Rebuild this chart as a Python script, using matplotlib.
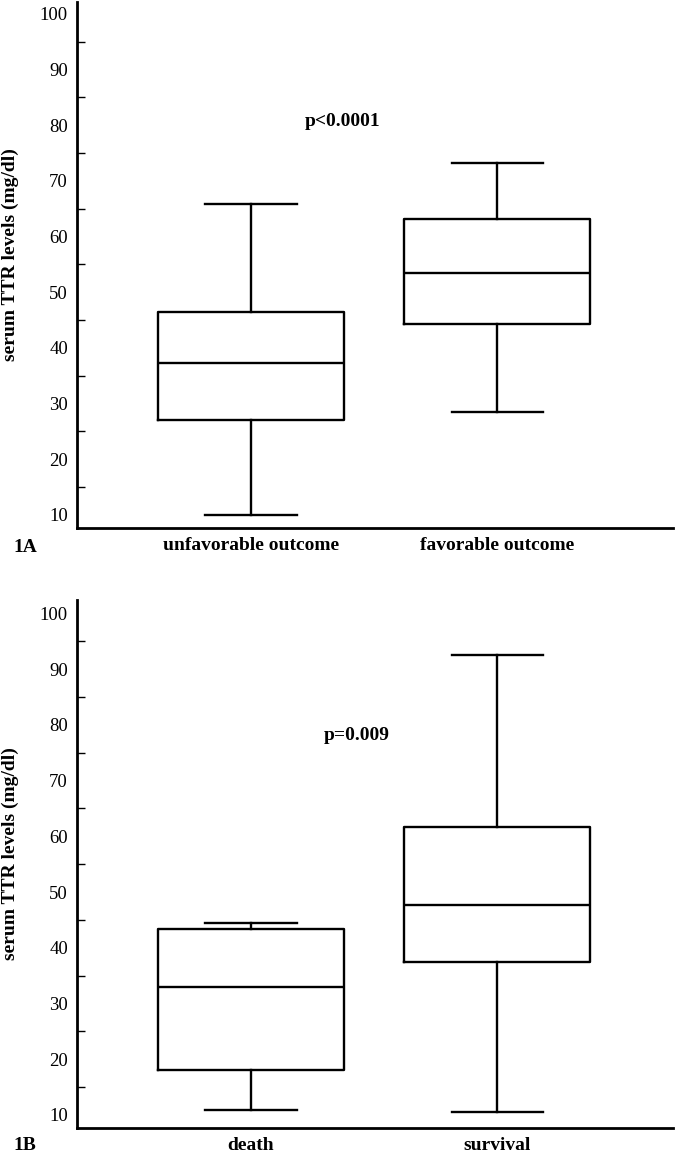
import matplotlib
matplotlib.use("Agg")
import matplotlib.pyplot as plt
from matplotlib.ticker import FixedLocator

plt.rcParams['font.family'] = ['Liberation Serif', 'DejaVu Serif']

# Panel 1A: outcome
groupsA = ["unfavorable outcome", "favorable outcome"]
lowA = [10.0, 28.4]
q1A = [27.0, 44.2]
medA = [37.2, 53.4]
q3A = [46.5, 63.2]
highA = [65.9, 73.1]
pA = "p<0.0001"

# Panel 1B: mortality
groupsB = ["death", "survival"]
lowB = [10.9, 10.5]
q1B = [18.0, 37.5]
medB = [32.9, 47.6]
q3B = [43.3, 61.6]
highB = [44.5, 92.6]
pB = "p=0.009"

yticks = [10, 20, 30, 40, 50, 60, 70, 80, 90, 100]
minor_ticks = [15, 25, 35, 45, 55, 65, 75, 85, 95]


def draw_panel(ax, groups, low, q1, med, q3, high, ptext, pxy, tag, tag_y, ylim):
    stats = []
    for i in range(len(groups)):
        stats.append({"whislo": low[i], "q1": q1[i], "med": med[i],
                      "q3": q3[i], "whishi": high[i], "label": groups[i]})
    line = dict(color="black", linewidth=1.7)
    ax.bxp(stats, positions=[1, 2], widths=0.756, capwidths=0.37,
           showfliers=False, boxprops=line, whiskerprops=line,
           capprops=line, medianprops=line)

    ax.set_xlim(0.293, 2.715)
    ax.set_ylim(*ylim)
    ax.spines["top"].set_visible(False)
    ax.spines["right"].set_visible(False)
    ax.spines["left"].set_linewidth(2.0)
    ax.spines["bottom"].set_linewidth(2.0)

    ax.yaxis.set_major_locator(FixedLocator(yticks))
    ax.yaxis.set_minor_locator(FixedLocator(minor_ticks))
    ax.tick_params(axis="y", which="major", length=0, pad=6.5, labelsize=13.5)
    ax.tick_params(axis="y", which="minor", direction="in", length=6, width=1)
    ax.tick_params(axis="x", which="major", length=0, pad=7, labelsize=14)
    ax.set_xticks([1, 2])
    ax.set_xticklabels(groups, fontweight="bold")

    ax.set_ylabel("serum TTR levels (mg/dl)", fontsize=14, fontweight="bold")
    ax.yaxis.set_label_coords(-0.097, 0.52)

    ax.text(pxy[0], pxy[1], ptext, fontsize=14, fontweight="bold",
            ha="center", va="center")
    fig.text(25 / 675, tag_y, tag, fontsize=14, fontweight="bold",
             ha="center", va="center")


fig = plt.figure(figsize=(6.75, 11.55), dpi=100)
axA = fig.add_axes([0.1141, 0.5431, 0.883, 0.4552])
axB = fig.add_axes([0.1141, 0.0236, 0.883, 0.4569])

draw_panel(axA, groupsA, lowA, q1A, medA, q3A, highA, pA, (1.374, 80.6),
           "1A", 1 - 547 / 1155, (7.7, 102.1))
draw_panel(axB, groupsB, lowB, q1B, medB, q3B, highB, pB, (1.431, 78.1),
           "1B", 1 - 1146 / 1155, (7.7, 102.4))

fig.savefig("out.png", dpi=100)
